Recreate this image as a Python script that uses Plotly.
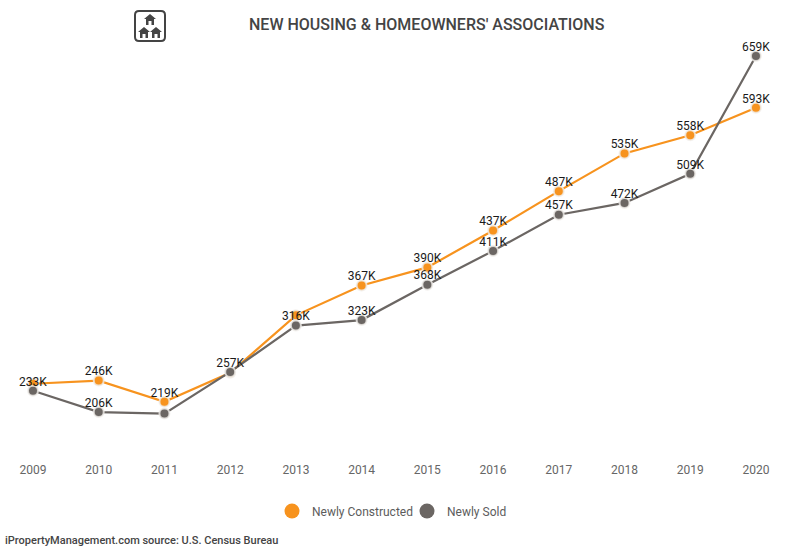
import re
import plotly.graph_objects as go

years = [2009, 2010, 2011, 2012, 2013, 2014, 2015, 2016, 2017, 2018, 2019, 2020]
constructed = [242, 246, 219, 256, 329, 367, 390, 437, 487, 535, 558, 593]
sold = [233, 206, 204, 257, 316, 323, 368, 411, 457, 472, 509, 659]
constructed_labels = ["", "246K", "219K", "", "", "367K", "390K", "437K", "487K", "535K", "558K", "593K"]
sold_labels = ["233K", "206K", "", "257K", "316K", "323K", "368K", "411K", "457K", "472K", "509K", "659K"]
ORANGE = "#f7931e"
GRAY = "#6b6663"


def px_x(v):
    return v / 800


def px_y(v):
    return (450 - v) / 420


fig = go.Figure()


def series(name, values, color, legend):
    fig.add_trace(go.Scatter(
        x=years, y=values, mode="lines+markers", name=name, showlegend=False,
        line=dict(color=color, width=2.2),
        marker=dict(size=10, color=color, line=dict(color="rgba(240,238,234,0.8)", width=2)),
        cliponaxis=False,
    ))
    fig.add_trace(go.Scatter(
        x=[None], y=[None], mode="markers", name=name, showlegend=True, legend=legend,
        marker=dict(size=15, color=color),
    ))


def labels(values, texts):
    fig.add_trace(go.Scatter(
        x=years, y=values, mode="text+markers", showlegend=False, hoverinfo="skip",
        text=texts, textposition="top center",
        marker=dict(size=2, opacity=0),
        textfont=dict(family="Roboto", size=12, color="#1a1a1a"),
        cliponaxis=False,
    ))


series("Newly Constructed", constructed, ORANGE, "legend")
series("Newly Sold", sold, GRAY, "legend2")
labels(constructed, constructed_labels)
labels(sold, sold_labels)

ICON = "#444444"
paths = ["M 139 11 H 161 Q 165 11 165 15 V 37 Q 165 41 161 41 H 139 Q 135 41 135 37 V 15 Q 135 11 139 11 Z"]
for hx, hy in [(150, 14), (144, 27), (156, 27)]:
    paths.append(f"M {hx-6} {hy+5} L {hx} {hy} L {hx+6} {hy+5} H {hx+4} V {hy+11} H {hx+1.5} V {hy+7} H {hx-1.5} V {hy+11} H {hx-4} V {hy+5} Z")


def scale_path(path):
    out, mode, i = [], None, 0
    for t in path.split():
        if re.fullmatch(r"[A-Z]", t):
            mode, i = t, 0
            out.append(t)
        else:
            v = float(t)
            isx = mode == "H" or (mode != "V" and i % 2 == 0)
            i += 1
            out.append(f"{px_x(v):.5f}" if isx else f"{px_y(v):.5f}")
    return " ".join(out)


shapes = [dict(type="path", xref="paper", yref="paper", path=scale_path(paths[0]),
               line=dict(color=ICON, width=2), fillcolor="white")]
for p in paths[1:]:
    shapes.append(dict(type="path", xref="paper", yref="paper", path=scale_path(p),
                       line=dict(width=0), fillcolor=ICON))

legend_font = dict(size=12, color="#5c5c5c")
fig.update_layout(
    width=800, height=550, autosize=False,
    margin=dict(l=0, r=0, t=30, b=100),
    paper_bgcolor="white", plot_bgcolor="white",
    showlegend=True,
    shapes=shapes,
    font=dict(family="Roboto", color="#666666", size=12),
    legend=dict(x=px_x(272), xanchor="left", y=px_y(511), yanchor="middle", font=legend_font,
                bgcolor="rgba(0,0,0,0)", itemclick=False, itemdoubleclick=False),
    legend2=dict(x=px_x(407), xanchor="left", y=px_y(511), yanchor="middle", font=legend_font,
                 bgcolor="rgba(0,0,0,0)", itemclick=False, itemdoubleclick=False),
    annotations=[
        dict(text="NEW HOUSING & HOMEOWNERS' ASSOCIATIONS", xref="paper", yref="paper",
             x=px_x(427), y=px_y(24), xanchor="center", yanchor="middle", showarrow=False,
             font=dict(family="Roboto", size=16, color="#444444", weight=500)),
        dict(text="iPropertyManagement.com source: U.S. Census Bureau", xref="paper", yref="paper",
             x=px_x(3), y=px_y(540), xanchor="left", yanchor="middle", showarrow=False,
             font=dict(family="Roboto", size=11, color="#444444", weight=500)),
    ],
    xaxis=dict(range=[2008.498, 2020.67], tickmode="array", tickvals=years, ticktext=[str(y) for y in years],
               showgrid=False, zeroline=False, showline=False, ticks="outside", ticklen=9,
               tickcolor="rgba(0,0,0,0)", tickfont=dict(size=12, color="#666666")),
    yaxis=dict(range=[157.7, 692], visible=False, showgrid=False, zeroline=False),
)
fig.write_html("out.html", config=dict(displayModeBar=False), post_script="document.body.style.margin='0';")
